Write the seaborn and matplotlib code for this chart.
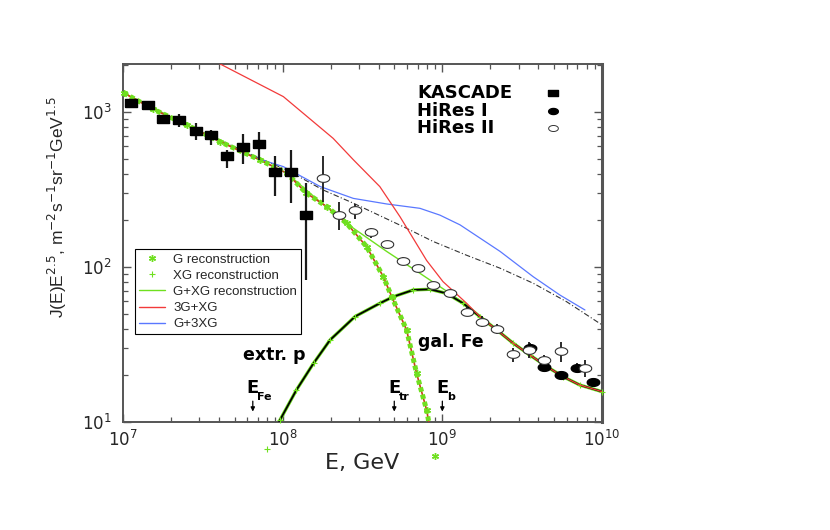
import numpy as np
import matplotlib
matplotlib.use("Agg")
import matplotlib.pyplot as plt
import seaborn as sns
from matplotlib.lines import Line2D

# ---- data (E in GeV, J(E)E^2.5 in m^-2 s^-1 sr^-1 GeV^1.5)
kas_E = [1.13e7, 1.43e7, 1.79e7, 2.25e7, 2.86e7, 3.54e7, 4.50e7, 5.66e7, 7.13e7, 8.95e7, 1.12e8, 1.41e8]
kas_J = [1138, 1110, 898, 887, 757, 707, 522, 592, 619, 408, 410, 216]
kas_lo = [1072, 1057, 838, 796, 659, 612, 434, 460, 490, 289, 258, 82]
kas_hi = [1208, 1164, 957, 967, 845, 765, 569, 721, 747, 522, 569, 347]

hr2_E = [1.78e8, 2.24e8, 2.84e8, 3.57e8, 4.48e8, 5.64e8, 7.06e8, 8.77e8, 1.11e9, 1.43e9,
         1.78e9, 2.21e9, 2.78e9, 3.48e9, 4.35e9, 5.57e9, 7.82e9]
hr2_J = [373, 216, 232, 167, 140, 109, 98, 76.6, 67.9, 51.5, 44.4, 39.8, 27.4, 29.2, 25.1, 28.5, 22.2]
hr2_lo = [262, 173, 204, 153, 132, 103, 93, 73, 65, 48, 41, 37, 24.5, 25.7, 23.5, 24.5, 19.6]
hr2_hi = [522, 262, 254, 178, 148, 116, 103, 80, 71, 56, 48, 43, 30.1, 32.8, 27, 32.8, 25.1]

hr1_E = [3.54e9, 4.35e9, 5.57e9, 6.93e9, 8.81e9]
hr1_J = [29.9, 22.7, 20.1, 22.4, 18.0]
hr1_lo = [27.5, 21.3, 18.9, 21.0, 16.9]
hr1_hi = [32.5, 24.2, 21.4, 23.9, 19.2]

# galactic component (G reconstruction)
g_E = [1.01e7, 1.55e7, 2.51e7, 4.05e7, 7.21e7, 1.06e8, 1.41e8, 1.89e8, 2.52e8, 3.36e8,
       4.27e8, 4.82e8, 5.97e8, 6.90e8, 7.98e8, 8.99e8]
g_J = [1327, 1040, 824, 643, 490, 403, 299, 245, 191, 135, 86.5, 64.3, 39.3, 20.6, 11.9, 6.0]

# extragalactic component (XG reconstruction)
xg_E = [7.94e7, 9.62e7, 1.22e8, 1.56e8, 1.98e8, 2.84e8, 4.06e8, 4.93e8, 6.58e8, 8.36e8,
        1.06e9, 1.35e9, 1.72e9, 2.19e9, 2.78e9, 3.54e9, 4.50e9, 5.71e9, 7.28e9, 1.0e10]
xg_J = [6.7, 10.3, 16.1, 23.9, 33.8, 47.9, 58.3, 64.3, 71.1, 71.8,
        67.6, 58.3, 47.8, 39.3, 32.2, 27.0, 22.8, 19.6, 17.3, 15.7]

# G+XG
tot_E = [1.01e7, 2.51e7, 7.21e7, 1.06e8, 1.71e8, 2.77e8, 4.48e8, 7.24e8, 1.06e9, 1.35e9,
         1.72e9, 2.19e9, 2.78e9, 3.54e9, 4.50e9, 5.71e9, 7.28e9, 1.0e10]
tot_J = [1327, 824, 490, 403, 264, 178, 126, 91.0, 70.0, 58.9,
         47.8, 39.3, 32.2, 27.0, 22.8, 19.6, 17.3, 15.7]

# 3G+XG
g3_E = [4.05e7, 1.01e8, 2.07e8, 2.77e8, 4.06e8, 5.43e8, 6.28e8, 7.98e8,
        1.01e9, 1.20e9, 1.42e9, 1.72e9, 2.19e9, 2.78e9, 3.54e9, 4.50e9, 5.71e9, 7.28e9, 1.0e10]
g3_J = [2042, 1256, 676, 492, 330, 211, 165, 110, 80.4, 68.4, 58.3,
        47.8, 39.3, 32.2, 27.0, 22.8, 19.6, 17.3, 15.7]

# G+3XG
xg3_E = [2.51e7, 4.05e7, 7.21e7, 1.01e8, 1.72e8, 2.77e8, 4.48e8, 7.24e8, 9.66e8, 1.29e9,
         2.30e9, 3.71e9, 5.45e9, 7.82e9]
xg3_J = [824, 643, 495, 444, 330, 277, 255, 239, 216, 187, 126, 86.5, 65.9, 52.8]

# dash-dot curve
dd_E = [1.01e7, 2.51e7, 7.21e7, 1.06e8, 1.79e8, 2.77e8, 5.69e8, 8.77e8, 1.42e9, 2.30e9,
        3.71e9, 6.0e9, 1.0e10]
dd_J = [1327, 824, 501, 423, 314, 258, 182, 146, 119, 98.2, 78.5, 59.7, 42.3]

E_Fe, E_tr, E_b = 6.5e7, 5.0e8, 1.0e9

# ---- style
sns.set_style("ticks")
plt.rcParams["font.family"] = ["Liberation Sans", "DejaVu Sans"]
plt.rcParams["mathtext.fontset"] = "custom"
plt.rcParams["mathtext.rm"] = "DejaVu Sans"
plt.rcParams["mathtext.bf"] = "DejaVu Sans:bold"

green = "#6fe01f"
red = "#f23a3a"
blue = "#5a78ff"

fig = plt.figure(figsize=(8.3, 5.3), dpi=100)
ax = fig.add_axes([0.1482, 0.2038, 0.5771, 0.6755])
ax.set_xscale("log")
ax.set_yscale("log")

# custom marker shapes
t = np.linspace(0, 2 * np.pi, 40)
ellipse = list(zip(np.cos(t), 0.62 * np.sin(t)))
rect = [(-1, -0.6), (1, -0.6), (1, 0.6), (-1, 0.6), (-1, -0.6)]

# curves
ax.plot(dd_E, dd_J, color="#333333", lw=0.8, ls=(0, (5, 2, 1, 2)), zorder=2)
sns.lineplot(x=xg3_E, y=xg3_J, ax=ax, color=blue, lw=0.9, zorder=2)
ax.plot(xg_E, xg_J, color=green, lw=2.4, zorder=2)
sns.lineplot(x=tot_E, y=tot_J, ax=ax, color=green, lw=1.0, zorder=3)
ax.plot(xg_E, xg_J, color="black", lw=1.3, zorder=4)
ax.plot(xg_E, xg_J, ls="none", marker="+", ms=4, mew=0.8, color=green, clip_on=False, zorder=4)
sns.lineplot(x=g3_E, y=g3_J, ax=ax, color=red, lw=0.9, zorder=5)
ax.plot(g_E, g_J, color="#c8401a", lw=1.2, zorder=4)
ax.plot(g_E, g_J, color=green, lw=3.6, ls=(0, (0.9, 0.6)), zorder=5)
ax.plot(g_E, g_J, ls="none", marker=(6, 2, 0), ms=5, mew=1.0, color=green, clip_on=False, zorder=5)

# data
ax.errorbar(kas_E, kas_J, yerr=[np.subtract(kas_J, kas_lo), np.subtract(kas_hi, kas_J)],
            fmt="none", ecolor="#1a1a1a", elinewidth=1.6, zorder=6)
ax.plot(kas_E, kas_J, ls="none", marker=rect, ms=8.5, color="black", zorder=7)
ax.errorbar(hr2_E, hr2_J, yerr=[np.subtract(hr2_J, hr2_lo), np.subtract(hr2_hi, hr2_J)],
            fmt="none", ecolor="#1a1a1a", elinewidth=1.3, zorder=6)
ax.errorbar(hr1_E, hr1_J, yerr=[np.subtract(hr1_J, hr1_lo), np.subtract(hr1_hi, hr1_J)],
            fmt="none", ecolor="#1a1a1a", elinewidth=1.3, zorder=6)
ax.plot(hr1_E, hr1_J, ls="none", marker=ellipse, ms=9, color="black", zorder=7)
ax.plot(hr2_E, hr2_J, ls="none", marker=ellipse, ms=9, mfc="white", mec="#333333", mew=0.8, zorder=8)

ax.set_xlim(1e7, 1e10)
ax.set_ylim(10, 2040)

for s in ax.spines.values():
    s.set_color("#555555")
    s.set_linewidth(1.4)
ax.spines["right"].set_linewidth(2.2)
ax.tick_params(which="both", direction="in", top=True, right=True, color="#555555")
ax.tick_params(which="major", length=6, width=1.0, labelsize=12)
ax.tick_params(which="minor", length=3.5, width=0.9)
ax.tick_params(axis="y", pad=8)
ax.tick_params(axis="x", pad=6)
for lab in ax.get_xticklabels() + ax.get_yticklabels():
    lab.set_family("DejaVu Sans")

ax.set_xlabel("E, GeV", fontsize=16, family="DejaVu Sans", labelpad=2)
ax.set_ylabel(r"J(E)E$^{2.5}$, m$^{-2}$s$^{-1}$sr$^{-1}$GeV$^{1.5}$", fontsize=12.5,
              family=["Liberation Sans Narrow", "Liberation Sans"])
ax.yaxis.set_label_coords(-0.112, 0.6)

# annotations
bold = dict(family="DejaVu Sans", weight="bold", color="black")
ax.text(5.64e7, 27, "extr. p", fontsize=12.5, va="center", ha="left", **bold)
ax.text(7.03e8, 32.8, "gal. Fe", fontsize=12.5, va="center", ha="left", **bold)
for e, sub in [(E_Fe, "Fe"), (E_tr, "tr"), (E_b, "b")]:
    ax.text(e * 0.915, 16.6, "E", fontsize=13, va="center", ha="left", **bold)
    ax.text(e * 1.07, 14.6, sub, fontsize=8, va="center", ha="left", **bold)
    ax.annotate("", xy=(e, 11.2), xytext=(e, 14.2),
                arrowprops=dict(arrowstyle="-|>", lw=0.9, color="black", mutation_scale=6))

# legend of the reconstructions
h1 = [Line2D([], [], ls="none", marker=(6, 2, 0), ms=5, mew=1.0, color=green),
      Line2D([], [], ls="none", marker="+", ms=5, mew=0.8, color=green),
      Line2D([], [], color=green, lw=1.0),
      Line2D([], [], color=red, lw=1.0),
      Line2D([], [], color=blue, lw=1.0)]
l1 = ["G reconstruction", "XG reconstruction", "G+XG reconstruction", "3G+XG", "G+3XG"]
leg1 = ax.legend(h1, l1, loc="upper left", bbox_to_anchor=(0.025, 0.482), fontsize=9.5,
                 frameon=True, fancybox=False, edgecolor="black", framealpha=1,
                 borderpad=0.3, labelspacing=0.3, handlelength=2.0, handletextpad=0.6,
                 borderaxespad=0)
leg1.get_frame().set_linewidth(0.8)

# key of the data sets (text left, marker right)
key_labels = ["KASCADE", "HiRes I", "HiRes II"]
key_y = [0.919, 0.869, 0.821]
key_style = [dict(marker=rect, ms=6.5, color="black"),
             dict(marker=ellipse, ms=7, color="black"),
             dict(marker=ellipse, ms=7, mfc="white", mec="#333333", mew=0.7)]
for lab, yy, st in zip(key_labels, key_y, key_style):
    ax.text(0.614, yy, lab, transform=ax.transAxes, fontsize=13, va="center", ha="left", **bold)
    ax.plot([0.898], [yy], transform=ax.transAxes, ls="none", **st)

fig.savefig("out.png", dpi=100)
